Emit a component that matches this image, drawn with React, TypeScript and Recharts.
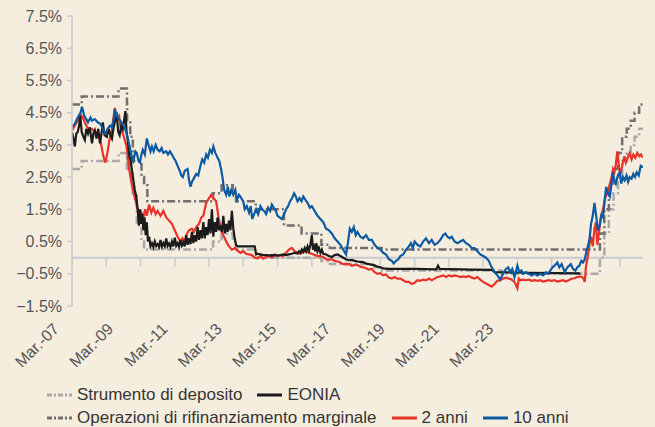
import React, { useEffect } from 'react';
import { LineChart, Line, XAxis, YAxis, ReferenceLine } from 'recharts';

// x = months since Mar-07, y = %
const depositRate: [number, number][] = [
  [0, 2.75], [3.4, 3.0], [16.3, 3.25], [19.25, 2.75], [19.3, 3.25], [20.4, 2.75],
  [21.3, 2.0], [22.7, 1.0], [24.35, 0.5], [25.25, 0.25], [49.4, 0.5], [52.4, 0.75],
  [56.3, 0.5], [57.45, 0.25], [64.35, 0.0], [87.35, -0.1], [90.3, -0.2], [105.3, -0.3],
  [108.5, -0.4], [150.6, -0.5], [184.9, 0.0], [186.45, 0.75], [188.05, 1.5], [189.7, 2.0],
  [191.25, 2.5], [192.7, 3.0], [194.3, 3.25], [195.7, 3.5], [197.05, 3.75], [198.65, 4.0],
  [200, 4.0],
];

const marginalRate: [number, number][] = [
  [0, 4.75], [3.4, 5.0], [16.3, 5.25], [19.25, 4.75], [19.3, 4.25], [20.4, 3.75],
  [21.3, 3.0], [24.35, 2.5], [25.25, 2.25], [26.4, 1.75], [49.4, 2.0], [52.4, 2.25],
  [56.3, 2.0], [57.45, 1.75], [64.35, 1.5], [74.25, 1.0], [80.4, 0.75], [87.35, 0.4],
  [90.3, 0.3], [108.5, 0.25], [184.9, 0.75], [186.45, 1.5], [188.05, 2.25], [189.7, 2.75],
  [191.25, 3.25], [192.7, 3.75], [194.3, 4.0], [195.7, 4.25], [197.05, 4.5], [198.65, 4.75],
  [200, 4.75],
];

const eonia: [number, number][] = [
  [0, 3.9], [0.5, 3.7], [1, 3.45], [1.5, 3.85], [2, 3.9], [2.5, 4.1], [2.9, 4.4], [3.4, 3.9],
  [4, 3.75], [4.5, 3.65], [5, 4.0], [5.6, 3.85], [6.2, 4.05], [7, 3.55], [7.5, 3.85], [8, 3.95],
  [8.6, 3.7], [9.2, 4.0], [9.8, 3.55], [10.4, 3.9], [10.8, 4.2], [11.4, 3.8], [12.2, 3.75],
  [12.8, 4.0], [13.3, 3.85], [14, 3.7], [14.6, 4.05], [15.2, 4.3], [15.7, 4.4], [16.2, 3.9],
  [16.7, 3.8], [17.3, 4.1], [17.8, 4.0], [18.3, 4.3], [18.7, 4.55], [19.1, 3.9], [19.6, 3.6],
  [20, 3.2], [20.6, 3.0], [21, 2.7], [21.5, 2.4], [22, 2.1], [22.5, 1.9], [23, 1.5], [23.4, 1.0],
  [23.8, 1.5], [24.2, 1.05], [24.6, 1.35], [25, 0.85], [25.4, 1.25], [25.8, 0.7], [26.2, 1.1],
  [26.6, 0.5], [27, 0.65], [27.5, 0.35], [28, 0.45], [28.5, 0.33], [29, 0.5], [29.5, 0.36],
  [30, 0.42], [30.5, 0.33], [31, 0.55], [31.5, 0.34], [32, 0.45], [32.5, 0.35], [33, 0.6],
  [33.5, 0.36], [34, 0.44], [34.5, 0.33], [35, 0.5], [35.5, 0.35], [36, 0.62], [36.5, 0.37],
  [37, 0.45], [37.5, 0.34], [38, 0.55], [38.5, 0.38], [39, 0.48], [39.5, 0.35], [40, 0.7],
  [40.5, 0.4], [41, 0.6], [41.5, 0.42], [42, 0.8], [42.5, 0.45], [43, 0.7], [43.5, 0.5],
  [44, 0.95], [44.5, 0.55], [45, 0.85], [45.5, 0.6], [46, 1.1], [46.5, 0.6], [47, 0.95],
  [47.5, 0.7], [48, 1.2], [48.5, 0.75], [49, 1.5], [49.5, 0.65], [50, 1.1], [50.5, 0.8],
  [51, 1.25], [51.5, 0.85], [52, 1.0], [52.5, 0.8], [53, 1.3], [53.5, 0.75], [54, 1.05],
  [54.5, 0.8], [55, 1.15], [55.5, 0.85], [56, 1.45], [56.5, 0.9], [57, 0.6], [57.5, 0.38],
  [58, 0.35], [64, 0.35], [64.5, 0.1], [65, 0.12], [66, 0.1], [67, 0.08], [68, 0.08], [69, 0.07],
  [70, 0.08], [71, 0.07], [72, 0.07], [73, 0.08], [74, 0.1], [75, 0.08], [76, 0.1], [77, 0.12],
  [78, 0.15], [79, 0.13], [79.5, 0.2], [80, 0.15], [80.5, 0.25], [81, 0.18], [81.5, 0.3],
  [82, 0.2], [82.5, 0.35], [83, 0.22], [83.5, 0.4], [84, 0.7], [84.4, 0.25], [84.8, 0.35],
  [85.2, 0.2], [85.6, 0.45], [86, 0.2], [86.5, 0.3], [87, 0.15], [87.5, 0.25], [88, 0.12],
  [89, 0.1], [90, 0.05], [91, 0.02], [92, 0.08], [93, 0.1], [94, 0.05], [95, 0.0], [96, -0.05],
  [97, -0.08], [98, -0.07], [99, -0.1], [100, -0.12], [101, -0.13], [102, -0.14], [103, -0.18],
  [104, -0.2], [105, -0.22], [106, -0.24], [107, -0.28], [108, -0.3], [109, -0.33], [110, -0.34],
  [111, -0.35], [120, -0.35], [127.6, -0.36], [128.2, -0.25], [128.8, -0.35], [140, -0.37],
  [147, -0.38], [148, -0.45], [155, -0.46], [160, -0.47], [170, -0.48], [178, -0.49],
];

const bond2y: [number, number][] = [
  [0, 3.95], [1, 4.1], [2, 4.25], [3, 4.45], [4, 4.3], [5, 4.1], [6, 3.95], [7, 4.0], [8, 3.9],
  [9, 3.85], [10, 3.6], [11, 3.15], [11.7, 2.95], [12.5, 3.3], [13, 3.6], [14, 4.0], [15, 4.65],
  [15.7, 4.3], [16.5, 4.4], [17, 4.05], [18, 3.8], [19, 3.5], [19.5, 3.2], [20, 2.75], [21, 2.25],
  [22, 1.85], [23, 1.5], [23.7, 1.2], [24.3, 1.4], [25, 1.25], [25.6, 1.5], [26.2, 1.3], [27, 1.65],
  [27.8, 1.4], [28.5, 1.55], [29.3, 1.35], [30, 1.45], [31, 1.3], [32, 1.45], [33, 1.25],
  [34, 1.15], [35, 1.05], [36, 0.85], [37, 0.65], [38, 0.5], [38.7, 0.6], [39.5, 0.5], [40, 0.7],
  [41, 0.85], [42, 0.9], [42.7, 0.8], [43.5, 0.95], [44.5, 1.05], [45.3, 1.25], [46, 1.3],
  [47, 1.7], [48, 1.85], [48.8, 1.95], [49.5, 1.85], [50.5, 1.75], [51.5, 1.15], [52.5, 0.8],
  [53.5, 0.6], [54.3, 0.45], [55, 0.35], [56, 0.25], [57, 0.3], [58, 0.22], [59, 0.15], [60, 0.2],
  [61, 0.12], [62, 0.1], [63, 0.08], [64, 0.0], [65, -0.02], [66, 0.05], [67, -0.03], [68, 0.02],
  [69, 0.05], [70, 0.0], [71, 0.1], [72, 0.05], [73, 0.08], [74, 0.05], [75, 0.15], [76, 0.25],
  [77, 0.3], [78, 0.2], [79, 0.15], [80, 0.12], [81, 0.18], [82, 0.2], [83, 0.15], [84, 0.12],
  [85, 0.08], [86, 0.05], [87, 0.05], [88, 0.02], [89, -0.05], [90, -0.06], [91, -0.05],
  [92, -0.1], [93, -0.12], [94, -0.15], [95, -0.2], [96, -0.2], [97, -0.2], [98, -0.25],
  [99, -0.22], [100, -0.23], [101, -0.28], [102, -0.3], [103, -0.33], [104, -0.37], [105, -0.35],
  [106, -0.45], [107, -0.5], [108, -0.48], [109, -0.55], [110, -0.52], [111, -0.62], [112, -0.65],
  [113, -0.6], [114, -0.65], [115, -0.65], [116, -0.7], [117, -0.75], [118, -0.75], [119, -0.82],
  [120, -0.78], [121, -0.7], [122, -0.72], [123, -0.68], [124, -0.7], [125, -0.65], [126, -0.7],
  [127, -0.65], [128, -0.6], [129, -0.58], [130, -0.55], [131, -0.6], [132, -0.55], [133, -0.58],
  [134, -0.55], [135, -0.57], [136, -0.6], [137, -0.58], [138, -0.6], [139, -0.57], [140, -0.62],
  [141, -0.65], [142, -0.6], [143, -0.68], [144, -0.75], [145, -0.8], [146, -0.85], [147, -0.9],
  [148, -0.82], [149, -0.72], [150, -0.7], [151, -0.65], [152, -0.62], [153, -0.65], [154, -0.68],
  [155, -0.75], [156, -0.95], [156.5, -0.65], [157, -0.7], [158, -0.68], [159, -0.7], [160, -0.68],
  [161, -0.72], [162, -0.7], [163, -0.72], [164, -0.7], [165, -0.74], [166, -0.72], [167, -0.7],
  [168, -0.72], [169, -0.7], [170, -0.74], [171, -0.72], [172, -0.7], [173, -0.74], [174, -0.7],
  [175, -0.65], [176, -0.64], [177, -0.6], [178, -0.58], [179, -0.62], [179.6, -0.75], [180, -0.3],
  [180.7, 0.05], [181.3, 0.45], [181.8, 0.65], [182.4, 0.35], [183, 0.9], [183.5, 1.1], [184, 0.4],
  [184.6, 0.8], [185.3, 1.3], [186, 1.5], [186.6, 1.8], [187.3, 2.0], [188, 2.15], [189, 2.5],
  [189.5, 2.75], [190, 2.65], [190.5, 2.9], [191, 3.3], [191.6, 2.8], [192.2, 2.6], [192.8, 2.9],
  [193.5, 3.15], [194, 2.95], [194.6, 3.1], [195.3, 3.25], [196, 3.05], [196.6, 3.2], [197.3, 3.1],
  [198, 3.25], [198.7, 3.15], [199.3, 3.2], [200, 3.1],
];

const bond10y: [number, number][] = [
  [0, 4.05], [1, 4.15], [2, 4.35], [3, 4.5], [3.5, 4.68], [4.3, 4.4], [5, 4.3], [5.6, 4.2],
  [6.5, 4.35], [7, 4.25], [8, 4.3], [9, 4.2], [10, 4.15], [11, 3.95], [11.7, 3.85], [12.5, 4.0],
  [13.3, 4.1], [14, 4.05], [14.6, 4.3], [15, 4.6], [15.7, 4.4], [16.5, 4.3], [17.3, 4.2], [18, 4.1],
  [18.6, 4.0], [19.3, 3.8], [20.2, 3.45], [21, 3.1], [21.5, 3.0], [22.2, 3.3], [22.7, 3.25],
  [23.3, 3.0], [23.8, 2.95], [24.3, 3.2], [24.8, 3.35], [25.5, 3.2], [26.2, 3.7], [26.8, 3.5],
  [27.5, 3.3], [28, 3.45], [28.6, 3.3], [29.3, 3.5], [30, 3.35], [30.7, 3.3], [31.4, 3.4],
  [32, 3.25], [33, 3.3], [33.6, 3.2], [34.3, 3.3], [35, 3.2], [35.6, 3.1], [36.3, 3.0], [37, 2.85],
  [37.7, 2.7], [38.3, 2.55], [38.8, 2.5], [39.5, 2.7], [40.5, 2.75], [41, 2.4], [41.5, 2.2],
  [42, 2.35], [42.9, 2.5], [43.5, 2.6], [44.2, 2.55], [45, 2.85], [45.6, 3.05], [46.3, 2.95],
  [47, 3.2], [47.6, 3.1], [48.3, 3.35], [49, 3.25], [49.5, 3.45], [50.2, 3.25], [51, 3.1],
  [51.6, 3.0], [52.2, 2.75], [52.7, 2.5], [53.3, 2.1], [54, 1.95], [54.6, 2.2], [55.1, 1.9],
  [55.8, 2.1], [56.5, 1.95], [57.2, 2.1], [57.8, 1.8], [58.5, 1.95], [59.3, 1.85], [60, 1.75],
  [60.5, 1.5], [61.2, 1.6], [62, 1.4], [62.6, 1.6], [63.1, 1.2], [63.8, 1.35], [64.5, 1.5],
  [65.2, 1.35], [66, 1.6], [66.6, 1.5], [67.3, 1.45], [68, 1.35], [68.7, 1.55], [69.4, 1.45],
  [70, 1.65], [70.7, 1.55], [71.4, 1.45], [72, 1.3], [72.7, 1.25], [73.5, 1.2], [74.3, 1.35],
  [75, 1.5], [75.7, 1.6], [76.4, 1.75], [77.1, 1.85], [77.8, 2.0], [78.4, 1.9], [79, 1.75],
  [79.7, 1.85], [80.4, 1.75], [81, 1.9], [81.7, 1.8], [82.5, 1.7], [83.3, 1.55], [84, 1.6],
  [85, 1.45], [86, 1.3], [87, 1.2], [88, 1.1], [89, 0.9], [90, 0.85], [91, 0.75], [92, 0.6],
  [93, 0.5], [94, 0.4], [95, 0.25], [96, 0.1], [96.7, 0.5], [97.3, 0.9], [98, 0.8], [98.7, 0.95],
  [99.4, 0.7], [100, 0.8], [101, 0.65], [102, 0.6], [103, 0.7], [104, 0.55], [105, 0.55],
  [106, 0.4], [107, 0.3], [108, 0.25], [109, 0.15], [110, 0.1], [111, -0.05], [112, -0.1],
  [112.7, -0.18], [113.5, -0.1], [114.3, -0.05], [115, 0.05], [116, 0.1], [117, 0.25], [118, 0.35],
  [118.7, 0.45], [119.4, 0.3], [120, 0.5], [121, 0.4], [122, 0.35], [123, 0.5], [124, 0.6],
  [125, 0.45], [126, 0.55], [127, 0.4], [128, 0.45], [129, 0.55], [130, 0.7], [130.8, 0.75],
  [131.5, 0.65], [132.3, 0.6], [133, 0.65], [134, 0.5], [135, 0.45], [136, 0.5], [137, 0.55],
  [138, 0.45], [139, 0.4], [140, 0.3], [141, 0.3], [142, 0.2], [143, 0.1], [144, 0.05], [145, 0.0],
  [146, -0.1], [147, -0.3], [148, -0.45], [149, -0.55], [150, -0.68], [151, -0.5], [152, -0.35],
  [152.8, -0.3], [153.5, -0.45], [154.2, -0.35], [155, -0.6], [156, -0.25], [156.7, -0.45],
  [157.4, -0.4], [158, -0.5], [159, -0.45], [160, -0.5], [161, -0.55], [162, -0.5], [163, -0.55],
  [164, -0.5], [165, -0.55], [166, -0.45], [166.7, -0.5], [167.5, -0.4], [168.3, -0.3],
  [169, -0.25], [170, -0.15], [170.7, -0.3], [171.5, -0.2], [172.6, -0.45], [173.5, -0.3],
  [174.7, -0.2], [175.5, -0.35], [176.3, -0.4], [177, -0.3], [177.7, -0.25], [178.4, -0.1],
  [179, -0.15], [179.6, -0.05], [180.2, 0.2], [180.7, 0.35], [181.3, 0.6], [181.8, 1.05],
  [182.4, 1.3], [183, 1.7], [183.6, 1.3], [184.2, 0.85], [184.8, 1.0], [185.4, 1.3], [186, 1.25],
  [186.6, 1.8], [187.1, 2.2], [187.7, 2.0], [188.4, 1.9], [189, 2.3], [189.4, 2.65], [190, 2.4],
  [190.5, 2.3], [191.2, 2.55], [191.8, 2.65], [192.4, 2.3], [193, 2.5], [193.6, 2.4], [194.2, 2.55],
  [194.8, 2.35], [195.3, 2.5], [196, 2.45], [196.6, 2.6], [197.2, 2.5], [197.8, 2.65],
  [198.5, 2.55], [199.2, 2.85], [200, 2.8],
];

const yTicks = [-1.5, -0.5, 0.5, 1.5, 2.5, 3.5, 4.5, 5.5, 6.5, 7.5];
const yearTicks = [0, 12, 24, 36, 48, 60, 72, 84, 96, 108, 120, 132, 144, 156, 168, 180, 192];
const xLabels = ['Mar.-07', 'Mar.-09', 'Mar.-11', 'Mar.-13', 'Mar.-15', 'Mar.-17', 'Mar.-19', 'Mar.-21', 'Mar.-23'];

const BG = '#f5eedf';
const AXIS = '#c9c9d0';
const TICK_FONT = '"Liberation Sans", Arial, sans-serif';
const LEGEND_FONT = '"Liberation Sans Narrow", "Liberation Sans", sans-serif';

const pts = (arr: [number, number][]) => arr.map(([m, v]) => ({ m, v }));
// the date labels sit on their own evenly spaced band, as in the original
const labelSlots = xLabels.map((_, k) => ({ k, v: null }));

const legendRows = [
  [
    { name: 'Strumento di deposito', color: '#a9a9a9', dash: '5 2 2 2' },
    { name: 'EONIA', color: '#1b1b1b', dash: undefined },
  ],
  [
    { name: 'Operazioni di rifinanziamento marginale', color: '#6f6f6f', dash: '5 2 2 2' },
    { name: '2 anni', color: '#e8332b', dash: undefined },
    { name: '10 anni', color: '#0b5aa2', dash: undefined },
  ],
];

const fmtPct = (v: number) => (v < 0 ? '\u2212' : '') + Math.abs(v).toFixed(1) + '%';

const DateTick = (props: any) => {
  const { x, y, payload } = props;
  return (
    <text
      x={0}
      y={0}
      transform={`translate(${x - 12},${y + 16}) rotate(-45)`}
      textAnchor="end"
      fill="#555"
      fontSize={16}
      fontFamily={TICK_FONT}
    >
      {xLabels[payload.value] ?? ''}
    </text>
  );
};

const Legend = () => (
  <div style={{ position: 'absolute', left: 47, top: 383, fontFamily: LEGEND_FONT, fontSize: 17, color: '#353535' }}>
    {legendRows.map((row, i) => (
      <div key={i} style={{ display: 'flex', alignItems: 'center', height: 23 }}>
        {row.map((it) => (
          <div key={it.name} style={{ display: 'flex', alignItems: 'center', marginRight: 15 }}>
            <svg width={25} height={6} style={{ marginRight: 5 }}>
              <line x1={0} y1={3} x2={25} y2={3} stroke={it.color} strokeWidth={3} strokeDasharray={it.dash} />
            </svg>
            <span>{it.name}</span>
          </div>
        ))}
      </div>
    ))}
  </div>
);

export default function App() {
  useEffect(() => {
    document.body.style.margin = '0';
    document.body.style.background = BG;
  }, []);

  return (
    <div style={{ position: 'relative', width: 655, height: 427, background: BG, overflow: 'hidden' }}>
      <LineChart width={655} height={427} margin={{ top: 16, right: 12, bottom: 61, left: 12 }}>
        <XAxis xAxisId="t" type="number" dataKey="m" domain={[0, 200]} hide allowDataOverflow />
        <XAxis
          xAxisId="lab"
          type="number"
          dataKey="k"
          domain={[0, 10.516]}
          ticks={[0, 1, 2, 3, 4, 5, 6, 7, 8]}
          allowDataOverflow
          axisLine={false}
          tickLine={false}
          height={60}
          interval={0}
          tick={<DateTick />}
        />
        <YAxis
          type="number"
          domain={[-1.5, 7.5]}
          ticks={yTicks}
          interval={0}
          width={60}
          tickFormatter={fmtPct}
          axisLine={{ stroke: AXIS, strokeWidth: 1.5 }}
          tickLine={{ stroke: AXIS, strokeWidth: 1.5 }}
          tickSize={5}
          tickMargin={5}
          tick={{ fill: '#555', fontSize: 16, fontFamily: TICK_FONT }}
        />
        <ReferenceLine xAxisId="t" y={0} stroke={AXIS} strokeWidth={2} />
        {yearTicks.map((m) => (
          <ReferenceLine
            key={m}
            xAxisId="t"
            segment={[{ x: m, y: 0 }, { x: m, y: -0.28 }]}
            stroke={AXIS}
            strokeWidth={1.5}
          />
        ))}
        <Line xAxisId="lab" data={labelSlots} dataKey="v" stroke="none" dot={false} legendType="none" isAnimationActive={false} />
        <Line xAxisId="t" data={pts(depositRate)} dataKey="v" type="stepAfter" stroke="#a9a9a9" strokeWidth={2.5} strokeDasharray="8 3 2 3" dot={false} isAnimationActive={false} />
        <Line xAxisId="t" data={pts(marginalRate)} dataKey="v" type="stepAfter" stroke="#6f6f6f" strokeWidth={2.5} strokeDasharray="8 3 2 3" dot={false} isAnimationActive={false} />
        <Line xAxisId="t" data={pts(bond2y)} dataKey="v" type="linear" stroke="#e8332b" strokeWidth={2.2} dot={false} isAnimationActive={false} />
        <Line xAxisId="t" data={pts(eonia)} dataKey="v" type="linear" stroke="#1b1b1b" strokeWidth={2.2} dot={false} isAnimationActive={false} />
        <Line xAxisId="t" data={pts(bond10y)} dataKey="v" type="linear" stroke="#0b5aa2" strokeWidth={2.2} dot={false} isAnimationActive={false} />
      </LineChart>
      <Legend />
    </div>
  );
}
